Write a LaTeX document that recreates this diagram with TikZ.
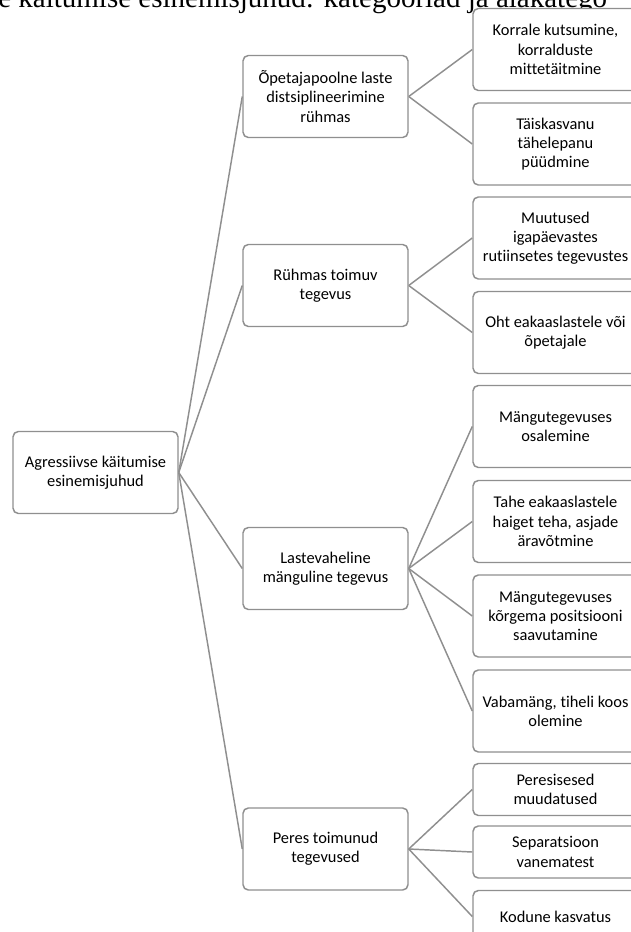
\documentclass[tikz,border=0pt]{standalone}
\usepackage{fontspec}
\setmainfont{Carlito}[Ligatures={NoCommon,NoContextual}]
\newfontfamily\headfont{Liberation Serif}
\usetikzlibrary{positioning}
\definecolor{boxgray}{HTML}{8F8F8F}
\tikzset{
  box/.style={rectangle, draw=boxgray, line width=1.1pt, fill=white,
              rounded corners=4pt, minimum width=123.75pt,
              minimum height=61.5pt, align=center, inner sep=2pt,
              font=\fontsize{12.3}{14.4}\selectfont},
  boxS/.style={box, minimum height=39pt},
  link/.style={draw=boxgray, line width=1.1pt},
}

\begin{document}
\begin{tikzpicture}[x=0.75pt, y=-0.75pt]
  \useasboundingbox (0,0) rectangle (631,932);
  \clip (0,0) rectangle (631,932);

  % Heading (cut off at the top)
  \node[anchor=base west, inner sep=0pt,
        font=\headfont\fontsize{21.75}{26}\selectfont] (title) at (-2,7)
        {e käitumise esinemisjuhud: kategooriad ja alakatego};

  % Root
  \node[box] (root) at (95.5,472.5) {Agressiivse käitumise\\esinemisjuhud};

  % Categories
  \node[box] (distsipl) at (325.5,96.5)  {Õpetajapoolne laste\\distsiplineerimine\\rühmas};
  \node[box] (ryhm)     at (325.5,285.5) {Rühmas toimuv\\tegevus};
  \node[box] (mang)     at (325.5,568.5) {Lastevaheline\\mänguline tegevus};
  \node[box] (pere)     at (325.5,849)   {Peres toimunud\\tegevused};

  % Subcategories
  \node[box]  (korral)  at (555.5,49.5)  {Korrale kutsumine,\\korralduste\\mittetäitmine};
  \node[box]  (tahel)   at (555.5,144)   {Täiskasvanu\\tähelepanu\\püüdmine};
  \node[box]  (rutiin)  at (555.5,238)   {Muutused\\igapäevastes\\rutiinsetes tegevustes};
  \node[box]  (oht)     at (555.5,332.5) {Oht eakaaslastele või\\õpetajale};
  \node[box]  (osal)    at (555.5,426.5) {Mängutegevuses\\osalemine};
  \node[box]  (haiget)  at (555.5,521.5) {Tahe eakaaslastele\\haiget teha, asjade\\äravõtmine};
  \node[box]  (posits)  at (555.5,616)   {Mängutegevuses\\kõrgema positsiooni\\saavutamine};
  \node[box]  (vaba)    at (555.5,711)   {Vabamäng, tiheli koos\\olemine};
  \node[boxS] (muud)    at (555.5,789.5) {Peresisesed\\muudatused};
  \node[boxS] (separ)   at (555.5,852)   {Separatsioon\\vanematest};
  \node[boxS] (kodu)    at (555.5,916.5) {Kodune kasvatus};

  % Connectors
  \foreach \c in {distsipl, ryhm, mang, pere}
    \draw[link] (root.east) -- (\c.west);
  \foreach \s in {korral, tahel}
    \draw[link] (distsipl.east) -- (\s.west);
  \foreach \s in {rutiin, oht}
    \draw[link] (ryhm.east) -- (\s.west);
  \foreach \s in {osal, haiget, posits, vaba}
    \draw[link] (mang.east) -- (\s.west);
  \foreach \s in {muud, separ, kodu}
    \draw[link] (pere.east) -- (\s.west);

\end{tikzpicture}
\end{document}
